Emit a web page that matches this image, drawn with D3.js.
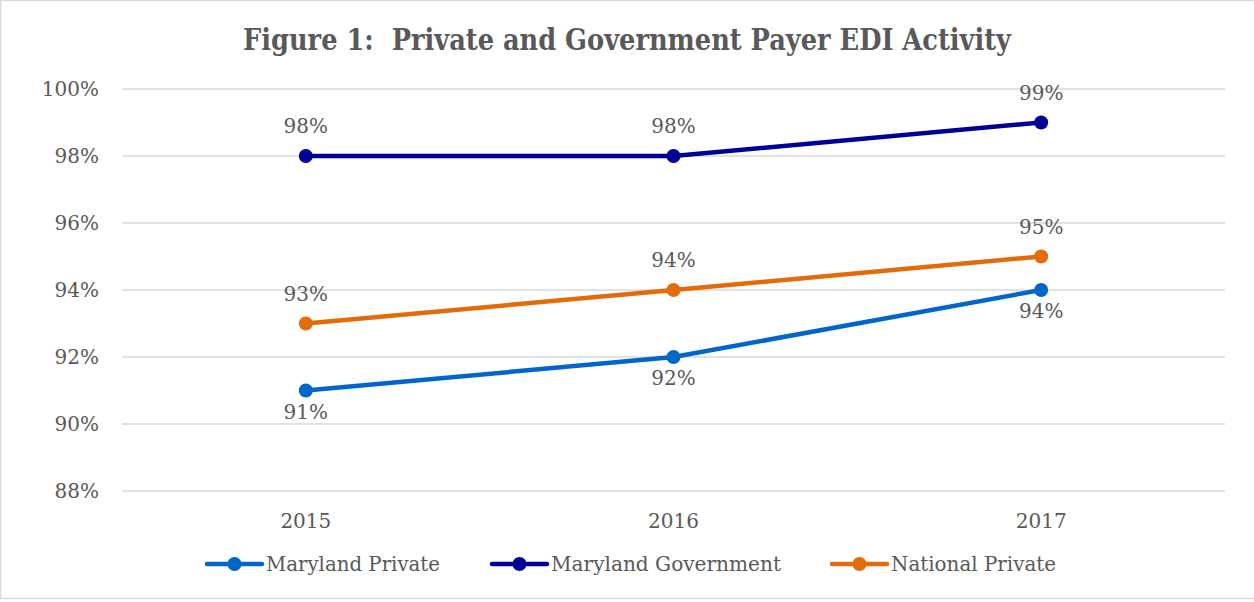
<!DOCTYPE html>
<html>
<head>
<meta charset="utf-8">
<script src="https://cdn.jsdelivr.net/npm/d3@7"></script>
<style>
  body { margin: 0; background: #fff; }
  text { font-family: "DejaVu Serif", "Liberation Serif", serif; fill: #595959; }
</style>
</head>
<body>
<div id="chart"></div>
<script>
// data
var years = ["2015", "2016", "2017"];
var marylandPrivate = [91, 92, 94];
var marylandGovernment = [98, 98, 99];
var nationalPrivate = [93, 94, 95];
var yTicks = [88, 90, 92, 94, 96, 98, 100];
var seriesNames = ["Maryland Private", "Maryland Government", "National Private"];

var width = 1254, height = 602;
var colors = ["#0066cc", "#000099", "#e36c0a"];
var labelPos = ["below", "above", "above"];

var svg = d3.select("#chart").append("svg")
    .attr("width", width).attr("height", height);

// chart border
svg.append("rect").attr("x", 0.5).attr("y", 0.5)
    .attr("width", width + 10).attr("height", 598)
    .attr("fill", "none").attr("stroke", "#d9d9d9").attr("stroke-width", 1.5);

var x = d3.scaleBand().domain(years).range([122, 1225]);
var y = d3.scaleLinear().domain([88, 100]).range([491, 89]);

// title
svg.append("text")
    .attr("x", 627).attr("y", 50)
    .attr("text-anchor", "middle")
    .attr("textLength", 768).attr("lengthAdjust", "spacingAndGlyphs")
    .style("font-size", "29px").style("font-weight", "bold")
    .style("white-space", "pre")
    .text("Figure 1:  Private and Government Payer EDI Activity");

// gridlines
svg.append("g").selectAll("line").data(yTicks).enter().append("line")
    .attr("x1", 122).attr("x2", 1225)
    .attr("y1", function (d) { return y(d); })
    .attr("y2", function (d) { return y(d); })
    .attr("stroke", "#d9d9d9").attr("stroke-width", 1.5);

// y labels
svg.append("g").selectAll("text").data(yTicks).enter().append("text")
    .attr("x", 99).attr("y", function (d) { return y(d); })
    .attr("dy", "0.35em").attr("text-anchor", "end")
    .style("font-size", "20px")
    .text(function (d) { return d + "%"; });

// x labels
svg.append("g").selectAll("text").data(years).enter().append("text")
    .attr("x", function (d) { return x(d) + x.bandwidth() / 2; })
    .attr("y", 521).attr("dy", "0.35em").attr("text-anchor", "middle")
    .style("font-size", "20px")
    .text(function (d) { return d; });

var allSeries = [marylandPrivate, marylandGovernment, nationalPrivate];
var line = d3.line()
    .x(function (d, i) { return x(years[i]) + x.bandwidth() / 2; })
    .y(function (d) { return y(d); });

allSeries.forEach(function (vals, s) {
  var g = svg.append("g");
  g.append("path").datum(vals).attr("d", line)
      .attr("fill", "none").attr("stroke", colors[s]).attr("stroke-width", 4.5)
      .attr("stroke-linecap", "round");
  g.selectAll("circle").data(vals).enter().append("circle")
      .attr("cx", function (d, i) { return x(years[i]) + x.bandwidth() / 2; })
      .attr("cy", function (d) { return y(d); })
      .attr("r", 7).attr("fill", colors[s]);
  g.selectAll("text").data(vals).enter().append("text")
      .attr("x", function (d, i) { return x(years[i]) + x.bandwidth() / 2; })
      .attr("y", function (d) { return y(d) + (labelPos[s] == "above" ? -30 : 21); })
      .attr("dy", "0.35em").attr("text-anchor", "middle")
      .style("font-size", "20px")
      .text(function (d) { return d + "%"; });
});

// legend
var legX = [207, 492, 832];
var legW = [174, 230, 165];
seriesNames.forEach(function (name, s) {
  var g = svg.append("g").attr("transform", "translate(" + legX[s] + ",564)");
  g.append("line").attr("x1", 0).attr("x2", 55).attr("y1", 0).attr("y2", 0)
      .attr("stroke", colors[s]).attr("stroke-width", 4.5).attr("stroke-linecap", "round");
  g.append("circle").attr("cx", 27.5).attr("cy", 0).attr("r", 7).attr("fill", colors[s]);
  g.append("text").attr("x", 59).attr("y", 0).attr("dy", "0.35em")
      .attr("textLength", legW[s]).attr("lengthAdjust", "spacingAndGlyphs")
      .style("font-size", "21px")
      .text(name);
});
</script>
</body>
</html>
